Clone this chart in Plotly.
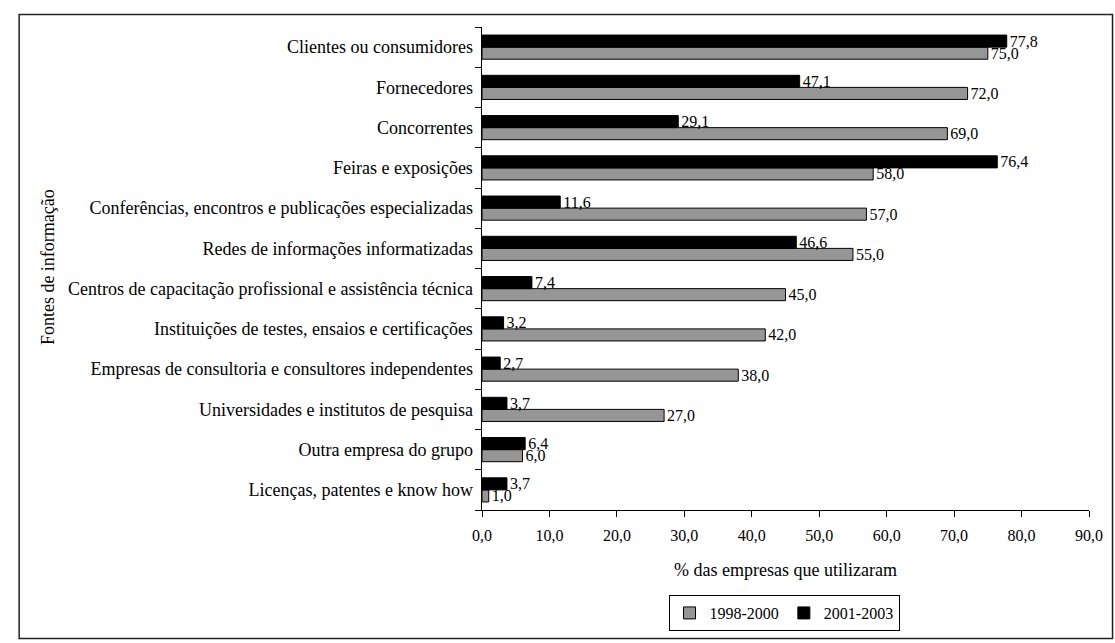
import plotly.graph_objects as go

# Information sources, listed top to bottom as shown on the chart
categorias = [
    "Clientes ou consumidores",
    "Fornecedores",
    "Concorrentes",
    "Feiras e exposições",
    "Conferências, encontros e publicações especializadas",
    "Redes de informações informatizadas",
    "Centros de capacitação profissional e assistência técnica",
    "Instituições de testes, ensaios e certificações",
    "Empresas de consultoria e consultores independentes",
    "Universidades e institutos de pesquisa",
    "Outra empresa do grupo",
    "Licenças, patentes e know how",
]
periodo_1998_2000 = [75.0, 72.0, 69.0, 58.0, 57.0, 55.0, 45.0, 42.0, 38.0, 27.0, 6.0, 1.0]
periodo_2001_2003 = [77.8, 47.1, 29.1, 76.4, 11.6, 46.6, 7.4, 3.2, 2.7, 3.7, 6.4, 3.7]
nomes_series = ["1998-2000", "2001-2003"]
ticks_x = [0, 10, 20, 30, 40, 50, 60, 70, 80, 90]

FONTE = "Liberation Serif"
W, H = 1115, 643
L, R, T, B = 482, 14, 27, 116
pw, ph = W - L - R, H - T - B


def px_x(p):
    return (p - L) / pw


def px_y(p):
    return (H - B - p) / ph


fig = go.Figure()
fig.add_trace(go.Bar(
    y=categorias, x=periodo_1998_2000, name=nomes_series[0], orientation="h",
    marker=dict(color="#969696", line=dict(color="black", width=1)),
    texttemplate="%{x:.1f}", textposition="outside", cliponaxis=False,
    constraintext="none",
    textfont=dict(family=FONTE, size=16, color="black"),
))
fig.add_trace(go.Bar(
    y=categorias, x=periodo_2001_2003, name=nomes_series[1], orientation="h",
    marker=dict(color="black", line=dict(color="black", width=1)),
    texttemplate="%{x:.1f}", textposition="outside", cliponaxis=False,
    constraintext="none",
    textfont=dict(family=FONTE, size=16, color="black"),
))

fig.update_layout(
    width=W, height=H,
    margin=dict(l=L, r=R, t=T, b=B),
    paper_bgcolor="white", plot_bgcolor="white",
    separators=", ",
    barmode="group", bargap=0.4, bargroupgap=0,
    font=dict(family=FONTE, size=16, color="black"),
    showlegend=True,
    legend=dict(
        orientation="h", x=px_x(790), xanchor="center",
        y=px_y(615), yanchor="top",
        bordercolor="black", borderwidth=1,
        font=dict(family=FONTE, size=16, color="black"),
        itemwidth=30, tracegroupgap=0,
    ),
    xaxis=dict(
        range=[0, 90], tickvals=ticks_x, tickformat=".1f",
        showgrid=False, zeroline=False,
        showline=True, linecolor="black", linewidth=1,
        ticks="outside", ticklen=6, tickcolor="black",
        ticklabelstandoff=5, ticklabeloverflow="allow",
        tickfont=dict(family=FONTE, size=16),
        title=dict(text="% das empresas que utilizaram",
                   font=dict(family=FONTE, size=18), standoff=20),
        fixedrange=True,
    ),
    yaxis=dict(
        type="category",
        categoryorder="array", categoryarray=categorias[::-1],
        showgrid=False, zeroline=False,
        showline=True, linecolor="black", linewidth=1,
        ticks="outside", ticklen=6, tickcolor="black", tickson="boundaries",
        tickfont=dict(family=FONTE, size=18),
        ticksuffix=" ",
        fixedrange=True,
    ),
    annotations=[dict(
        text="Fontes de informação", textangle=-90,
        xref="paper", yref="paper", x=px_x(39), y=px_y(276),
        xanchor="center", yanchor="middle", showarrow=False,
        font=dict(family=FONTE, size=18, color="black"),
    )],
    shapes=[dict(
        type="rect", xref="paper", yref="paper",
        x0=px_x(10), x1=px_x(1125), y0=px_y(660), y1=px_y(14),
        line=dict(color="#222222", width=1.5), fillcolor="rgba(0,0,0,0)",
        layer="below",
    )],
)

fig.write_html("out.html")
